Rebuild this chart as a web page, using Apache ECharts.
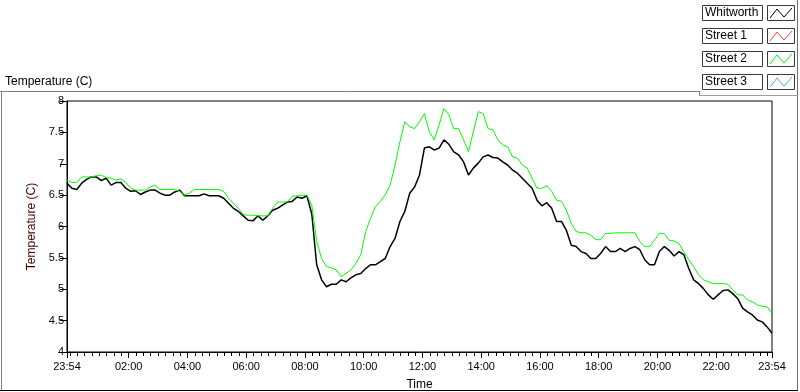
<!DOCTYPE html>
<html>
<head>
<meta charset="utf-8">
<script src="https://cdn.jsdelivr.net/npm/echarts@6/dist/echarts.min.js"></script>
<style>
  html, body { margin: 0; padding: 0; background: #fff; }
  #chart { width: 800px; height: 392px; }
</style>
</head>
<body>
<div id="chart"></div>
<script>
// readings every 10 minutes, starting at 23:54
const sampleStep = 10
const startClock = 23 * 60 + 54

const seriesNames = ['Whitworth', 'Street 1', 'Street 2', 'Street 3']
const seriesColors = ['#000000', '#ff4040', '#00ff00', '#3fb0f0']

const whitworth = [
  6.69, 6.61, 6.59, 6.69, 6.75, 6.79, 6.79, 6.73, 6.77, 6.66,
  6.70, 6.70, 6.61, 6.56, 6.57, 6.51, 6.55, 6.58, 6.58, 6.53,
  6.50, 6.50, 6.55, 6.58, 6.49, 6.49, 6.49, 6.49, 6.52, 6.49,
  6.49, 6.49, 6.45, 6.37, 6.29, 6.24, 6.17, 6.10, 6.09, 6.17,
  6.10, 6.17, 6.26, 6.29, 6.34, 6.39, 6.40, 6.47, 6.45, 6.49,
  6.20, 5.39, 5.15, 5.04, 5.08, 5.08, 5.15, 5.12, 5.18, 5.23,
  5.25, 5.33, 5.39, 5.39, 5.44, 5.49, 5.68, 5.81, 6.08, 6.24,
  6.53, 6.63, 6.82, 7.25, 7.27, 7.22, 7.25, 7.38, 7.31, 7.19,
  7.14, 7.03, 6.82, 6.93, 7.01, 7.11, 7.14, 7.10, 7.09, 7.03,
  6.98, 6.90, 6.85, 6.77, 6.69, 6.61, 6.42, 6.33, 6.38, 6.29,
  6.08, 6.08, 5.94, 5.70, 5.68, 5.60, 5.57, 5.49, 5.49, 5.57,
  5.68, 5.60, 5.60, 5.65, 5.60, 5.65, 5.68, 5.63, 5.47, 5.39,
  5.39, 5.60, 5.68, 5.62, 5.53, 5.60, 5.55, 5.33, 5.15, 5.09,
  5.01, 4.91, 4.84, 4.91, 4.98, 4.99, 4.93, 4.85, 4.70, 4.64,
  4.59, 4.51, 4.48, 4.40, 4.30
]
const street1 = []
const street2 = [
  6.74, 6.70, 6.70, 6.79, 6.79, 6.79, 6.81, 6.82, 6.78, 6.77,
  6.74, 6.76, 6.70, 6.61, 6.58, 6.58, 6.58, 6.63, 6.66, 6.59,
  6.59, 6.59, 6.59, 6.56, 6.50, 6.53, 6.59, 6.59, 6.59, 6.59,
  6.59, 6.59, 6.56, 6.45, 6.37, 6.29, 6.19, 6.18, 6.18, 6.17,
  6.17, 6.17, 6.29, 6.39, 6.39, 6.39, 6.48, 6.49, 6.50, 6.50,
  6.34, 5.76, 5.49, 5.36, 5.34, 5.31, 5.20, 5.25, 5.31, 5.41,
  5.55, 5.92, 6.13, 6.32, 6.40, 6.50, 6.66, 6.98, 7.35, 7.67,
  7.59, 7.56, 7.67, 7.80, 7.51, 7.38, 7.62, 7.88, 7.78, 7.56,
  7.56, 7.38, 7.19, 7.51, 7.83, 7.80, 7.56, 7.54, 7.38, 7.30,
  7.27, 7.11, 7.09, 6.98, 6.93, 6.77, 6.61, 6.61, 6.65, 6.56,
  6.42, 6.40, 6.26, 6.05, 5.92, 5.90, 5.90, 5.86, 5.79, 5.79,
  5.89, 5.89, 5.90, 5.90, 5.90, 5.90, 5.90, 5.76, 5.68, 5.68,
  5.78, 5.89, 5.89, 5.78, 5.77, 5.73, 5.60, 5.47, 5.36, 5.23,
  5.15, 5.12, 5.09, 5.09, 5.09, 5.08, 4.99, 4.91, 4.91, 4.83,
  4.80, 4.75, 4.73, 4.72, 4.62
]
const street3 = []

// minutes after 23:54 where the labelled ticks sit
const xLabelMinutes = [0, 126, 246, 366, 486, 606, 726, 846, 966, 1086, 1206, 1326, 1440]
const yTicks = [4, 4.5, 5, 5.5, 6, 6.5, 7, 7.5, 8]

// every quarter hour, plus the two ends
const allTickMinutes = [0]
for (let m = 6; m < 1440; m += 15) allTickMinutes.push(m)
allTickMinutes.push(1440)

const clockLabel = v => {
  const c = (startClock + v) % 1440
  const h = Math.floor(c / 60), mm = c % 60
  return String(h).padStart(2, '0') + ':' + String(mm).padStart(2, '0')
}

const allData = [whitworth, street1, street2, street3]
const FONT = '"Liberation Sans", Arial, sans-serif'

const legendGraphics = []
seriesNames.forEach((name, i) => {
  const top = 5 + i * 23
  legendGraphics.push(
    { type: 'rect', shape: { x: 702.5, y: top + 0.5, width: 60, height: 15 },
      style: { fill: '#fff', stroke: '#3a3a3a', lineWidth: 1 }, z: 10 },
    { type: 'text', x: 705, y: top + 8, style: { text: name, font: '12px ' + FONT, fill: '#000', verticalAlign: 'middle' }, z: 11 },
    { type: 'rect', shape: { x: 767.5, y: top + 0.5, width: 27, height: 15 },
      style: { fill: '#fff', stroke: '#3a3a3a', lineWidth: 1 }, z: 10 },
    { type: 'polyline', shape: { points: [[770, top + 13], [777, top + 4], [784, top + 12], [792, top + 3]] },
      style: { stroke: seriesColors[i], lineWidth: 1, fill: null }, z: 11 }
  )
})

const chart = echarts.init(document.getElementById('chart'), null, { renderer: 'canvas' })

chart.setOption({
  animation: false,
  backgroundColor: '#fff',
  grid: { left: 67, right: 28, top: 101, bottom: 40, outerBoundsMode: 'none', containLabel: false,
    show: true, borderColor: '#000', borderWidth: 1, backgroundColor: '#fff' },
  xAxis: [
    {
      type: 'value', min: 0, max: 1440, position: 'bottom',
      name: 'Time', nameLocation: 'middle', nameGap: 27,
      nameTextStyle: { color: '#000', fontSize: 12, fontFamily: FONT },
      axisLine: { show: true, lineStyle: { color: '#000', width: 1 } },
      axisTick: { show: true, customValues: allTickMinutes, length: 4, lineStyle: { color: '#000' } },
      axisLabel: { customValues: xLabelMinutes, formatter: clockLabel, color: '#000', fontSize: 11, fontFamily: FONT, margin: 9, showMinLabel: true, showMaxLabel: true },
      splitLine: { show: false }
    },
    {
      type: 'value', min: 0, max: 1440, position: 'bottom', offset: 0,
      axisLine: { show: false },
      axisTick: { show: true, customValues: xLabelMinutes, length: 6, lineStyle: { color: '#000' } },
      axisLabel: { show: true, customValues: xLabelMinutes, formatter: () => '' },
      splitLine: { show: false }
    }
  ],
  yAxis: {
    type: 'value', min: 4, max: 8, interval: 0.5,
    name: 'Temperature (C)', nameLocation: 'middle', nameGap: 29,
    nameTextStyle: { color: '#4a0000', fontSize: 12, fontFamily: FONT },
    axisLine: { show: true, lineStyle: { color: '#000' } },
    axisTick: { show: true, length: 7, lineStyle: { color: '#000' } },
    axisLabel: { color: '#000', fontSize: 11, fontFamily: FONT, margin: 3,
      formatter: v => (yTicks.includes(v) ? String(v) : '') },
    splitLine: { show: false }
  },
  series: seriesNames.map((name, i) => ({
    name,
    type: 'line',
    xAxisIndex: 0,
    showSymbol: false,
    symbol: 'none',
    color: seriesColors[i],
    lineStyle: { width: i === 0 ? 1.5 : 1, color: seriesColors[i] },
    data: allData[i].map((v, k) => [k * sampleStep, v])
  })),
  graphic: [
    { type: 'text', x: 5, y: 76, style: { text: 'Temperature (C)', font: '12px ' + FONT, fill: '#000' } },
    { type: 'line', shape: { x1: 0, y1: 91.5, x2: 699, y2: 91.5 }, style: { stroke: '#808080', lineWidth: 1 } },
    { type: 'line', shape: { x1: 699.5, y1: 91, x2: 699.5, y2: 96 }, style: { stroke: '#808080', lineWidth: 1 } },
    { type: 'line', shape: { x1: 699, y1: 95.5, x2: 797, y2: 95.5 }, style: { stroke: '#a0a0a0', lineWidth: 1 } },
    { type: 'line', shape: { x1: 1.5, y1: 91, x2: 1.5, y2: 390 }, style: { stroke: '#808080', lineWidth: 1 } },
    { type: 'line', shape: { x1: 797.5, y1: 0, x2: 797.5, y2: 391 }, style: { stroke: '#707070', lineWidth: 1 } },
    { type: 'line', shape: { x1: 0, y1: 390.5, x2: 798, y2: 390.5 }, style: { stroke: '#000', lineWidth: 1 } },
    { type: 'line', shape: { x1: 772.5, y1: 101, x2: 772.5, y2: 352 }, style: { stroke: '#808080', lineWidth: 1 }, z: 5 },
    ...legendGraphics
  ]
})

window.addEventListener('resize', () => chart.resize())
</script>
</body>
</html>
